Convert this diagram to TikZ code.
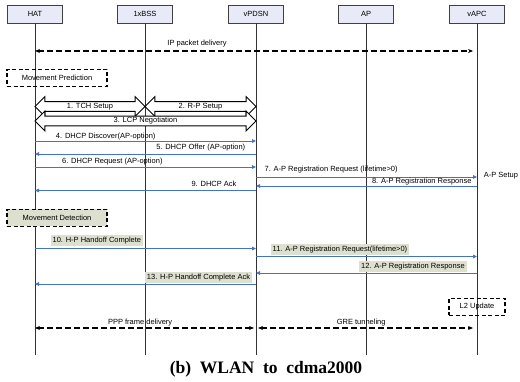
\documentclass[tikz,border=0pt]{standalone}
\usepackage{fontspec}
\setmainfont{Liberation Sans}
\newfontfamily\capfont{Liberation Serif}
\usetikzlibrary{arrows.meta,shapes.arrows,calc}

\definecolor{msgblue}{RGB}{68,114,196}
\definecolor{hdrfill}{RGB}{232,235,247}
\definecolor{lblfill}{RGB}{221,224,206}

\tikzset{
    every node/.style={font=\fontsize{7.5}{8}\selectfont},
    entity/.style={draw=black!75, fill=hdrfill, minimum width=55pt, minimum height=18pt, inner sep=0pt},
    lifeline/.style={draw=black!80, line width=0.8pt},
    msg/.style={draw=msgblue, line width=0.8pt, -{Triangle[length=4pt,width=3.5pt]}},
    msglabel/.style={anchor=south, inner sep=1pt},
    hilabel/.style={anchor=south, fill=lblfill, inner sep=2pt},
    bearer/.style={line width=1.2pt, dash pattern=on 6pt off 3pt, {Stealth[length=5pt,width=4pt]}-{Stealth[length=5pt,width=4pt]}},
    event/.style={draw, line width=1.2pt, dash pattern=on 4pt off 2.5pt, minimum height=17pt, inner sep=2pt},
    setup/.style={double arrow, draw, line width=0.9pt, fill=white, double arrow head extend=5pt, inner ysep=1pt, inner xsep=0pt}
}

\begin{document}
\begin{tikzpicture}[x=1pt,y=-1pt]
    \useasboundingbox (0,0) rectangle (520,382);

    \node[entity] (hat)  at (35,14)  {HAT};
    \node[entity] (bss)  at (145,14) {1xBSS};
    \node[entity] (pdsn) at (256,14) {vPDSN};
    \node[entity] (ap)   at (366,14) {AP};
    \node[entity] (apc)  at (477,14) {vAPC};

    % message rows on every lifeline
    \foreach \n/\x in {hat/35,bss/145,pdsn/256,ap/366,apc/477}{
        \foreach \r/\y in {ip/51,tch/106.5,lcp/121,m4/141,m5/154,m6/167,m7/177,m8/186,m9/190.5,m10/248.5,m11/256.5,m12/273,m13/284,ppp/328,end/355}{
            \coordinate (\n-\r) at (\x,\y);
        }
    }

    \foreach \n in {hat,bss,pdsn,ap,apc}
        \draw[lifeline] (\n) -- (\n-end);

    \draw[bearer] (hat-ip) -- node[msglabel, pos=0.37, yshift=2pt] {IP packet delivery} ($(apc-ip)+(-4,0)$);

    \node[event, minimum width=100pt] (predict) at (57,78) {Movement Prediction};

    \node[setup, minimum height=110pt] (tch) at ($(hat-tch)!.5!(bss-tch)$) {1. TCH Setup};
    \node[setup, minimum height=111pt] (rp)  at ($(bss-tch)!.5!(pdsn-tch)$) {2. R-P Setup};
    \node[setup, minimum height=221pt] (lcp) at ($(hat-lcp)!.5!(pdsn-lcp)$) {3. LCP Negotiation};

    \draw[msg] (hat-m4)  -- node[msglabel, pos=0.32] {4. DHCP Discover(AP-option)} (pdsn-m4);
    \draw[msg] (pdsn-m5) -- node[msglabel, pos=0.25, yshift=2pt] {5. DHCP Offer (AP-option)} (hat-m5);
    \draw[msg] (hat-m6)  -- node[msglabel, pos=0.35, yshift=1pt] {6. DHCP Request (AP-option)} (pdsn-m6);
    \draw[msg] (pdsn-m7) -- node[msglabel, pos=0.34, yshift=3pt] {7. A-P Registration Request (lifetime>0)} (apc-m7);
    \draw[msg] (apc-m8)  -- node[msglabel, pos=0.25, yshift=-0.5pt] {8. A-P Registration Response} (pdsn-m8);
    \draw[msg] (pdsn-m9) -- node[msglabel, pos=0.19, yshift=3pt] {9. DHCP Ack} (hat-m9);

    \node (apsetup) at (501,176) {A-P Setup};

    \node[event, fill=lblfill, minimum width=100pt] (detect) at (57,218) {Movement Detection};

    \draw[msg] (hat-m10)  -- node[hilabel, pos=0.28, yshift=2pt] {10. H-P Handoff Complete} (pdsn-m10);
    \draw[msg] (pdsn-m11) -- node[hilabel, pos=0.38, yshift=1pt] {11. A-P Registration Request(lifetime>0)} (apc-m11);
    \draw[msg] (apc-m12)  -- node[hilabel, pos=0.29, yshift=1pt] {12. A-P Registration Response} (pdsn-m12);
    \draw[msg] (pdsn-m13) -- node[hilabel, pos=0.26, yshift=1pt] {13. H-P Handoff Complete Ack} (hat-m13);

    \node[event, minimum width=56pt] (l2) at (477,307) {L2 Update};

    \draw[bearer] (hat-ppp)  -- node[msglabel, pos=0.48] {PPP frame delivery} ($(pdsn-ppp)+(-2,0)$);
    \draw[bearer] ($(pdsn-ppp)+(2,0)$) -- node[msglabel, pos=0.48] {GRE tunneling} ($(apc-ppp)+(-4,0)$);

    \node[font=\capfont\bfseries\fontsize{17.5}{20}\selectfont] (caption) at (266,369) {(b)\ \ WLAN\ \ to\ \ cdma2000};
\end{tikzpicture}
\end{document}
